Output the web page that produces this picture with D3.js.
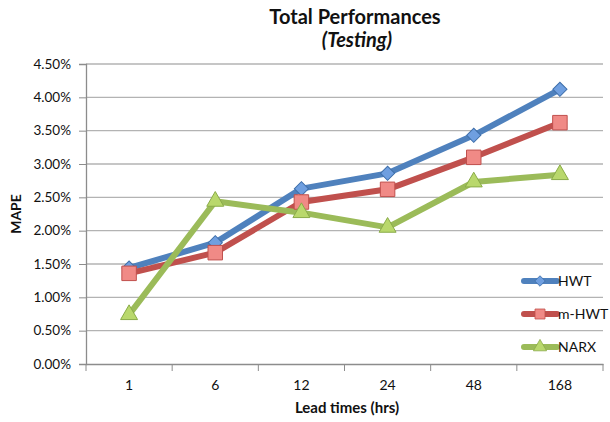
<!DOCTYPE html>
<html lang="en">
<head>
<meta charset="UTF-8">
<title>Total Performances</title>
<script src="https://d3js.org/d3.v7.min.js"></script>
<style>
  body { margin: 0; background: #fff; }
  text { font-family: Lato, "Open Sans", sans-serif; fill: #111; }
</style>
</head>
<body>
<svg width="610" height="422"></svg>
<script>
const leadTimes = ["1", "6", "12", "24", "48", "168"];
const hwt  = [1.44, 1.82, 2.63, 2.86, 3.43, 4.12];
const mhwt = [1.36, 1.67, 2.43, 2.62, 3.10, 3.62];
const narx = [0.74, 2.44, 2.27, 2.05, 2.73, 2.84];
const yTicks = [0, 0.5, 1, 1.5, 2, 2.5, 3, 3.5, 4, 4.5];

// diamond = square turned 45deg
const series = [
  { name: "HWT",   values: hwt,  line: "#4f81bd", fill: "#6f9fe0", stroke: "#3f6faa", shape: d3.symbolSquare, rot: 45, size: 100, lsize: 55 },
  { name: "m-HWT", values: mhwt, line: "#c0504d", fill: "#f08a86", stroke: "#c0504d", shape: d3.symbolSquare, rot: 0, size: 210, lsize: 100 },
  { name: "NARX",  values: narx, line: "#9bbb59", fill: "#b9d86c", stroke: "#8aab48", shape: d3.symbolTriangle, rot: 0, size: 125, lsize: 75 }
];

const svg = d3.select("svg");
const plotLeft = 86, plotRight = 603, plotTop = 64, plotBottom = 364;

const x = d3.scaleBand().domain(leadTimes).range([plotLeft, plotRight]);
const y = d3.scaleLinear().domain([0, 4.5]).range([plotBottom, plotTop]);

// gridlines
svg.append("g")
  .selectAll("line")
  .data(yTicks.slice(1))
  .join("line")
  .attr("x1", plotLeft).attr("x2", plotRight)
  .attr("y1", d => y(d)).attr("y2", d => y(d))
  .attr("stroke", "#b3b3b3").attr("stroke-width", 1.3);

// y axis
const yAxis = svg.append("g")
  .attr("transform", `translate(${plotLeft},0)`)
  .call(d3.axisLeft(y).tickValues(yTicks).tickFormat(d => d.toFixed(2) + "%").tickSize(7).tickPadding(8));
yAxis.select(".domain").attr("stroke", "#8c8c8c").attr("stroke-width", 1.3);
yAxis.selectAll(".tick line").attr("stroke", "#8c8c8c");
yAxis.selectAll("text").style("font-size", "13.5px").attr("fill", "#111");

// x axis with ticks at band boundaries
const xAxis = svg.append("g")
  .attr("transform", `translate(0,${plotBottom})`)
  .call(d3.axisBottom(x).tickSize(0).tickPadding(16));
xAxis.select(".domain").attr("stroke", "#8c8c8c").attr("stroke-width", 1.3);
xAxis.selectAll("text").style("font-size", "14px").attr("fill", "#111");
xAxis.selectAll(".bound")
  .data(leadTimes.map(d => x(d)).concat([plotRight]))
  .join("line")
  .attr("class", "bound")
  .attr("x1", d => d).attr("x2", d => d)
  .attr("y1", 0).attr("y2", 7)
  .attr("stroke", "#8c8c8c");

// lines + markers
const line = d3.line()
  .x((d, i) => x(leadTimes[i]) + x.bandwidth() / 2)
  .y(d => y(d));

series.forEach(s => {
  svg.append("path")
    .datum(s.values)
    .attr("d", line)
    .attr("fill", "none")
    .attr("stroke", s.line)
    .attr("stroke-width", 6)
    .attr("stroke-linejoin", "round");
});
series.forEach(s => {
  svg.append("g")
    .selectAll("path")
    .data(s.values)
    .join("path")
    .attr("transform", (d, i) => `translate(${x(leadTimes[i]) + x.bandwidth() / 2},${y(d)}) rotate(${s.rot})`)
    .attr("d", d3.symbol().type(s.shape).size(s.size))
    .attr("fill", s.fill)
    .attr("stroke", s.stroke)
    .attr("stroke-width", 1);
});

// legend
const legend = svg.append("g");
series.forEach((s, i) => {
  const ly = 281 + i * 33;
  legend.append("line")
    .attr("x1", 524).attr("x2", 557)
    .attr("y1", ly).attr("y2", ly)
    .attr("stroke", s.line).attr("stroke-width", 6).attr("stroke-linecap", "round");
  legend.append("path")
    .attr("transform", `translate(540,${ly}) rotate(${s.rot})`)
    .attr("d", d3.symbol().type(s.shape).size(s.lsize))
    .attr("fill", s.fill).attr("stroke", s.stroke).attr("stroke-width", 0.8);
  legend.append("text")
    .attr("x", 558).attr("y", ly + 5)
    .style("font-size", "14px")
    .text(s.name);
});

// titles
svg.append("text")
  .attr("x", 355).attr("y", 24)
  .attr("text-anchor", "middle")
  .style("font-size", "20px").style("font-weight", "bold")
  .text("Total Performances");
svg.append("text")
  .attr("x", 357).attr("y", 47)
  .attr("text-anchor", "middle")
  .style("font-size", "20px").style("font-weight", "bold").style("font-style", "italic")
  .text("(Testing)");
svg.append("text")
  .attr("transform", "translate(21,214) rotate(-90)")
  .attr("text-anchor", "middle")
  .style("font-size", "14px").style("font-weight", "bold")
  .text("MAPE");
svg.append("text")
  .attr("x", 347).attr("y", 413)
  .attr("text-anchor", "middle")
  .style("font-size", "15px").style("font-weight", "bold")
  .text("Lead times (hrs)");
</script>
</body>
</html>
